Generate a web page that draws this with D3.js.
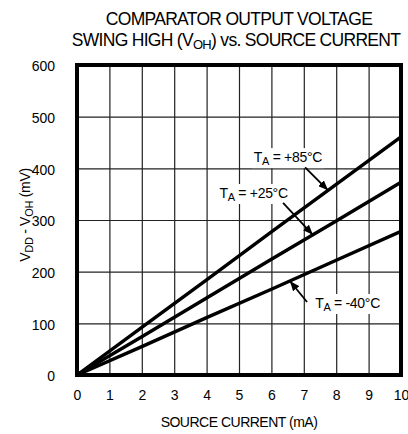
<!DOCTYPE html>
<html>
<head>
<meta charset="utf-8">
<script src="https://cdn.jsdelivr.net/npm/d3@7"></script>
<style>
  html, body { margin: 0; padding: 0; background: #fff; }
  svg { display: block; font-family: "Liberation Sans", Arial, Helvetica, sans-serif; }
</style>
</head>
<body>
<svg id="chart" width="408" height="434"></svg>
<script>
// ---- data ----
const sourceCurrent = [0, 2, 4, 6, 8, 10];           // mA
const swing85 = [0, 92, 184, 277, 369, 461];          // mV, TA = +85°C
const swing25 = [0, 74, 149, 224, 298, 373];          // mV, TA = +25°C
const swingM40 = [0, 55, 111, 166, 222, 278];         // mV, TA = -40°C
const xTickValues = [0, 1, 2, 3, 4, 5, 6, 7, 8, 9, 10];
const yTickValues = [0, 100, 200, 300, 400, 500, 600];
const seriesNames = ["+85°C", "+25°C", "-40°C"];

const svg = d3.select("#chart");
const X0 = 77, X1 = 401, Y0 = 375, Y1 = 65;
const x = d3.scaleLinear().domain([0, 10]).range([X0, X1]);
const y = d3.scaleLinear().domain([0, 600]).range([Y0, Y1]);

// ---- title ----
const title = svg.append("g").attr("font-size", 17.5).attr("letter-spacing", "-0.7px")
  .attr("text-anchor", "middle").attr("fill", "#000");
title.append("text").attr("x", 239).attr("y", 25).text("COMPARATOR OUTPUT VOLTAGE");
const t2 = title.append("text").attr("x", 236).attr("y", 46);
t2.append("tspan").text("SWING HIGH (V");
t2.append("tspan").attr("font-size", 13).attr("dy", 3).text("OH");
t2.append("tspan").attr("dy", -3).text(") vs. SOURCE CURRENT");

// ---- grid ----
const grid = svg.append("g");
grid.append("g").attr("transform", `translate(0,${Y0})`)
  .call(d3.axisBottom(x).tickValues(xTickValues.slice(1, -1)).tickSize(-(Y0 - Y1)).tickFormat(""))
  .call(g => g.select(".domain").remove())
  .call(g => g.selectAll("line").attr("stroke", "#222").attr("stroke-width", 1.2));
grid.append("g").attr("transform", `translate(${X0},0)`)
  .call(d3.axisLeft(y).tickValues(yTickValues.slice(1, -1)).tickSize(-(X1 - X0)).tickFormat(""))
  .call(g => g.select(".domain").remove())
  .call(g => g.selectAll("line").attr("stroke", "#222").attr("stroke-width", 1.2));

// ---- tick labels ----
svg.append("g").attr("transform", `translate(0,${Y0})`)
  .call(d3.axisBottom(x).tickValues(xTickValues).tickSize(0).tickPadding(25).tickFormat(d3.format("d")))
  .call(g => g.select(".domain").remove())
  .call(g => g.selectAll("text").attr("font-size", 14).attr("font-family", null).attr("fill", "#000").attr("dy", "0"));
svg.append("g").attr("transform", `translate(${X0},0)`)
  .call(d3.axisLeft(y).tickValues(yTickValues).tickSize(0).tickPadding(22).tickFormat(d3.format("d")))
  .call(g => g.select(".domain").remove())
  .call(g => g.selectAll("text").attr("font-size", 14).attr("font-family", null).attr("fill", "#000").attr("dy", "0.42em"));

// ---- axis titles ----
svg.append("text").attr("x", 239).attr("y", 427).attr("text-anchor", "middle")
  .attr("font-size", 14).attr("letter-spacing", "-0.5px").text("SOURCE CURRENT (mA)");
const yt = svg.append("text").attr("transform", "translate(30,215) rotate(-90)")
  .attr("text-anchor", "middle").attr("font-size", 14).attr("letter-spacing", "-0.3px");
yt.append("tspan").text("V");
yt.append("tspan").attr("font-size", 11).attr("dy", 3).text("DD");
yt.append("tspan").attr("dy", -3).text(" - V");
yt.append("tspan").attr("font-size", 11).attr("dy", 3).text("OH");
yt.append("tspan").attr("dy", -3).text(" (mV)");

// ---- data lines ----
const allSeries = [swing85, swing25, swingM40];
const line = d3.line().x((d, i) => x(sourceCurrent[i])).y(d => y(d));
svg.append("defs").append("clipPath").attr("id", "plotclip")
  .append("rect").attr("x", X0).attr("y", Y1).attr("width", X1 - X0).attr("height", Y0 - Y1);
svg.append("g").attr("clip-path", "url(#plotclip)")
  .selectAll("path").data(allSeries).join("path")
  .attr("d", line).attr("fill", "none").attr("stroke", "#000").attr("stroke-width", 3.4);

// ---- annotations ----
function valueAt(series, mA) {
  return d3.scaleLinear().domain(sourceCurrent).range(series)(mA);
}
const annotations = [
  { s: 0, lx: 6.51, ly: 412, ax: 7.04, ay: 402, tip: 7.75 },
  { s: 1, lx: 5.45, ly: 342.6, ax: 6.36, ay: 333, tip: 7.28 },
  { s: 2, lx: 8.35, ly: 129.7, ax: 7.10, ay: 141.3, tip: 6.57 }
];
svg.select("defs").append("marker").attr("id", "arrow")
  .attr("viewBox", "0 0 10 8").attr("refX", 10).attr("refY", 4)
  .attr("markerWidth", 10).attr("markerHeight", 8).attr("markerUnits", "userSpaceOnUse")
  .attr("orient", "auto")
  .append("path").attr("d", "M0,0 L10,4 L0,8 Z").attr("fill", "#000");

const ann = svg.append("g");
annotations.forEach(a => {
  const g = ann.append("g");
  const t = g.append("text").attr("x", x(a.lx)).attr("y", y(a.ly))
    .attr("text-anchor", "middle").attr("font-size", 14).attr("letter-spacing", "-0.3px");
  t.append("tspan").text("T");
  t.append("tspan").attr("font-size", 11).attr("dy", 3).text("A");
  t.append("tspan").attr("dy", -3).text(" = " + seriesNames[a.s]);
  const bb = t.node().getBBox();
  g.insert("rect", "text").attr("x", bb.x - 2).attr("y", bb.y - 1)
    .attr("width", bb.width + 4).attr("height", bb.height + 2).attr("fill", "#fff");
  g.append("line")
    .attr("x1", x(a.ax)).attr("y1", y(a.ay))
    .attr("x2", x(a.tip)).attr("y2", y(valueAt(allSeries[a.s], a.tip)))
    .attr("stroke", "#000").attr("stroke-width", 1.8).attr("marker-end", "url(#arrow)");
});

// ---- frame ----
svg.append("rect").attr("x", X0).attr("y", Y1).attr("width", X1 - X0).attr("height", Y0 - Y1)
  .attr("fill", "none").attr("stroke", "#000").attr("stroke-width", 4);
</script>
</body>
</html>
